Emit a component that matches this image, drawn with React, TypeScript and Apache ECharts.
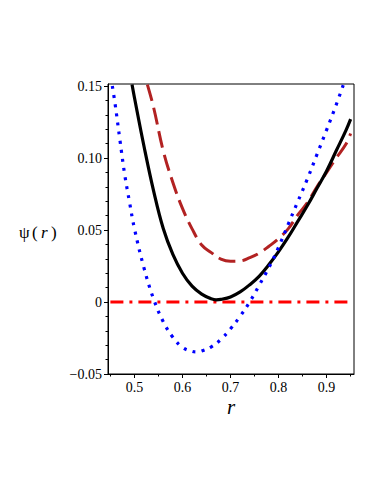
import React, { useEffect, useRef } from "react";
import * as echarts from "echarts";

const xTicks = [0.5, 0.6, 0.7, 0.8, 0.9];
const xMinorTicks = [0.45, 0.55, 0.65, 0.75, 0.85, 0.95];
const yTicks = [-0.05, 0, 0.05, 0.1, 0.15];
const yMinorTicks = [-0.04, -0.03, -0.02, -0.01, 0.01, 0.02, 0.03, 0.04, 0.06, 0.07, 0.08, 0.09, 0.11, 0.12, 0.13, 0.14];

const rBlack = [0.495, 0.5, 0.52, 0.54, 0.56, 0.58, 0.6, 0.62, 0.64, 0.66, 0.67, 0.68, 0.7, 0.72, 0.74, 0.76, 0.78, 0.8, 0.82, 0.84, 0.86, 0.88, 0.9, 0.92, 0.94, 0.95];
const psiBlack = [0.151, 0.142, 0.108, 0.077, 0.051, 0.033, 0.02, 0.011, 0.0055, 0.0022, 0.0015, 0.0018, 0.0035, 0.007, 0.012, 0.018, 0.026, 0.035, 0.045, 0.056, 0.067, 0.079, 0.091, 0.105, 0.119, 0.127];

const rBlue = [0.454, 0.46, 0.47, 0.48, 0.49, 0.5, 0.52, 0.54, 0.56, 0.58, 0.6, 0.62, 0.63, 0.64, 0.66, 0.68, 0.7, 0.72, 0.74, 0.76, 0.78, 0.8, 0.82, 0.84, 0.86, 0.88, 0.9, 0.92, 0.935];
const psiBlue = [0.15, 0.137, 0.112, 0.088, 0.069, 0.051, 0.0235, 0.002, -0.0137, -0.0245, -0.0315, -0.0343, -0.0347, -0.034, -0.0311, -0.026, -0.0186, -0.0099, 0.0001, 0.0118, 0.024, 0.038, 0.054, 0.0697, 0.0855, 0.1025, 0.1195, 0.137, 0.151];

const rBrown = [0.527, 0.54, 0.56, 0.58, 0.6, 0.62, 0.64, 0.66, 0.68, 0.7, 0.72, 0.74, 0.76, 0.78, 0.8, 0.82, 0.84, 0.86, 0.88, 0.9, 0.92, 0.94, 0.95];
const psiBrown = [0.151, 0.135, 0.105, 0.083, 0.065, 0.0508, 0.0396, 0.0343, 0.0298, 0.0283, 0.0285, 0.0308, 0.034, 0.0387, 0.044, 0.0508, 0.0605, 0.069, 0.08, 0.09, 0.1, 0.1095, 0.117];

const rZero = [0.45, 0.95];
const psiZero = [0, 0];

const zip = (a: number[], b: number[]) => a.map((v, i) => [v, b[i]]);

const FONT = "Liberation Serif";

export default function App() {
  const ref = useRef<HTMLDivElement>(null);
  useEffect(() => {
    if (!ref.current) return;
    const chart = echarts.init(ref.current, undefined, { renderer: "svg" });
    const fmtY = (v: number) => {
      if (Math.abs(v) < 1e-9) return "0";
      return (v < 0 ? "\u2212" : "") + Math.abs(v).toFixed(2);
    };
    chart.setOption({
      animation: false,
      backgroundColor: "#fff",
      grid: {
        left: 108,
        top: 84,
        right: 28,
        bottom: 120,
        show: true,
        borderColor: "#000",
        borderWidth: 1,
        backgroundColor: "transparent",
      },
      xAxis: [
        {
          type: "value",
          min: 0.445,
          max: 0.957,
          position: "bottom",
          axisLine: { show: true, onZero: false, lineStyle: { color: "#000", width: 1 } },
          axisTick: { show: true, inside: false, length: 4, customValues: xTicks, lineStyle: { color: "#000" } },
          axisLabel: {
            show: true,
            customValues: xTicks,
            margin: 6,
            color: "#000",
            fontFamily: FONT,
            fontSize: 14,
            formatter: (v: number) => v.toFixed(1),
          },
          splitLine: { show: false },
        },
        {
          type: "value",
          min: 0.445,
          max: 0.957,
          position: "bottom",
          axisLine: { show: false, onZero: false },
          axisTick: { show: true, inside: false, length: 2.5, customValues: xMinorTicks, lineStyle: { color: "#000" } },
          axisLabel: { show: false },
          splitLine: { show: false },
        },
      ],
      yAxis: [
        {
          type: "value",
          min: -0.05,
          max: 0.1514,
          position: "left",
          axisLine: { show: true, onZero: false, lineStyle: { color: "#000", width: 1 } },
          axisTick: { show: true, inside: false, length: 4, customValues: yTicks, lineStyle: { color: "#000" } },
          axisLabel: {
            show: true,
            customValues: yTicks,
            margin: 6,
            color: "#000",
            fontFamily: FONT,
            fontSize: 14,
            formatter: fmtY,
          },
          splitLine: { show: false },
        },
        {
          type: "value",
          min: -0.05,
          max: 0.1514,
          position: "left",
          axisLine: { show: false, onZero: false },
          axisTick: { show: true, inside: false, length: 2.5, customValues: yMinorTicks, lineStyle: { color: "#000" } },
          axisLabel: { show: false },
          splitLine: { show: false },
        },
      ],
      series: [
        {
          type: "line",
          data: zip(rZero, psiZero),
          showSymbol: false,
          clip: true,
          lineStyle: { color: "#ff0000", width: 3, type: [13, 6, 3, 6], cap: "butt" },
          z: 2,
        },
        {
          type: "line",
          data: zip(rBrown, psiBrown),
          showSymbol: false,
          smooth: 0.4,
          clip: true,
          lineStyle: { color: "#b22222", width: 3, type: [17, 7], cap: "butt" },
          z: 3,
        },
        {
          type: "line",
          data: zip(rBlack, psiBlack),
          showSymbol: false,
          smooth: 0.4,
          clip: true,
          lineStyle: { color: "#000", width: 3.2, type: "solid" },
          z: 4,
        },
        {
          type: "line",
          data: zip(rBlue, psiBlue),
          showSymbol: false,
          smooth: 0.4,
          clip: true,
          lineStyle: { color: "#0000ff", width: 3.2, type: [3, 6.2], cap: "butt" },
          z: 5,
        },
      ],
      graphic: [
        { type: "text", left: 19, top: 224, style: { text: "\u03c8", fontFamily: FONT, fontSize: 17, fill: "#000" } },
        { type: "text", left: 32, top: 224, style: { text: "(", fontFamily: FONT, fontSize: 17, fill: "#000" } },
        { type: "text", left: 41, top: 224, style: { text: "r", fontFamily: FONT, fontStyle: "italic", fontSize: 17, fill: "#000" } },
        { type: "text", left: 51, top: 224, style: { text: ")", fontFamily: FONT, fontSize: 17, fill: "#000" } },
        {
          type: "text",
          x: 231,
          y: 407,
          style: {
            text: "r",
            fontFamily: FONT,
            fontStyle: "italic",
            fontSize: 21,
            fill: "#000",
            align: "center",
            verticalAlign: "middle",
          },
        },
      ],
    });
    return () => chart.dispose();
  }, []);
  return (
    <div
      ref={ref}
      style={{ position: "absolute", left: 0, top: 0, width: 382, height: 494, background: "#fff" }}
    />
  );
}
